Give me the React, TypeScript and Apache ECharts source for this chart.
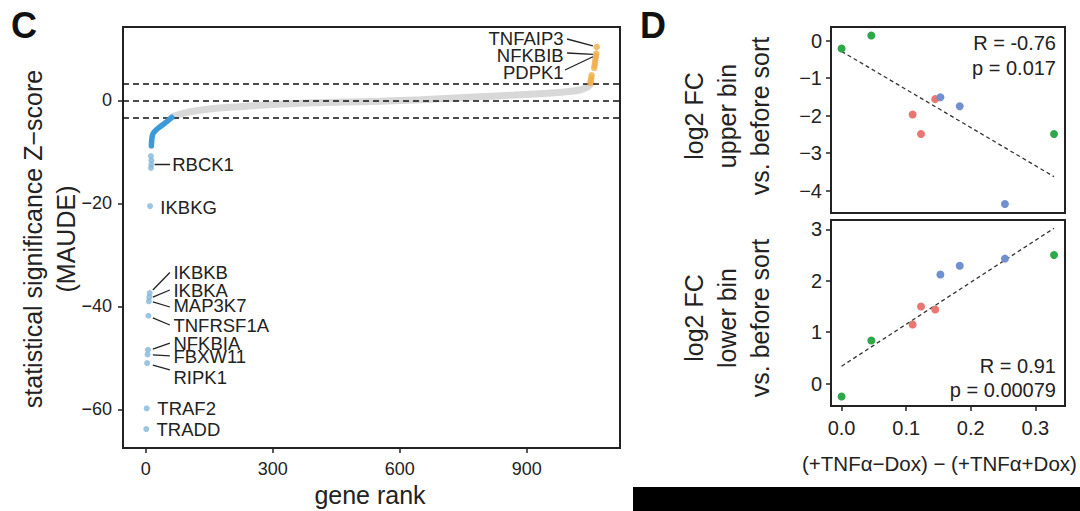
import React, { useEffect, useRef } from "react";
import * as echarts from "echarts";

// ---------- Panel C data ----------
const rankTicks = [0, 300, 600, 900];
const zTicks = [-60, -40, -20, 0];
const thresholds = [3.3, 0, -3.3];

// sorted Z-score curve of non-significant genes (rank, z)
const grayBand = [
  [61, -3.2], [80, -2.7], [104, -2.2], [150, -1.65], [222, -1.2], [300, -0.8],
  [380, -0.49], [470, -0.3], [553, -0.14], [650, 0.15], [789, 0.74], [870, 1.05],
  [947, 1.4], [1000, 1.75], [1025, 2.04], [1040, 2.5], [1049, 3.0], [1052, 3.3],
];
// significant negative genes (dense band)
const blueBand = [
  [13, -8.8], [14, -7.6], [16, -6.6], [22, -5.9], [35, -5.0], [48, -4.2], [61, -3.3],
];
// strongly negative genes, isolated
const bluePoints = [
  [12, -10.8], [13, -11.6], [13, -12.4], [12, -13.1],
  [10, -20.5],
  [9, -37.4], [8, -38.2], [7, -39.0],
  [6, -41.8],
  [5, -48.4], [4, -49.3],
  [3, -51.0],
  [2, -59.8],
  [1, -63.8],
];
// significant positive genes
const orangePoints = [
  [1065, 10.4], [1064, 9.1], [1063, 8.6], [1062, 8.0], [1061, 7.4], [1060, 6.8],
  [1059, 6.3], [1053, 4.9], [1052, 4.3], [1051, 3.8], [1050, 3.4],
];

// gene annotations: name, label anchor (rank, z), leader line from/to (rank, z)
const geneNames = [
  "RBCK1", "IKBKG", "IKBKB", "IKBKA", "MAP3K7", "TNFRSF1A",
  "NFKBIA", "FBXW11", "RIPK1", "TRAF2", "TRADD",
];
const geneLabelAt = [
  [61, -12.5], [33, -20.7], [64, -33.4], [64, -36.8], [64, -39.9], [64, -43.6],
  [64, -47.1], [64, -49.8], [64, -53.7], [26, -59.9], [24, -63.8],
];
const geneLeaders = [
  [[21, -12.33], [57, -12.33]],
  null,
  [[16.5, -36.8], [56.7, -33.4]],
  [[16.5, -38.2], [56.7, -36.8]],
  [[16.5, -39.1], [56.7, -40.1]],
  [[16.5, -42.2], [56.7, -43.6]],
  [[16.5, -48.3], [56.7, -47.1]],
  [[16.5, -49.4], [56.7, -49.6]],
  [[16.5, -51.4], [56.7, -52.3]],
  null,
  null,
];
const posNames = ["TNFAIP3", "NFKBIB", "PDPK1"];
const posLabelAt = [[988, 12.1], [988, 8.64], [988, 5.34]];
const posLeaders = [
  [[995, 11.94], [1056, 10.6]],
  [[995, 9.22], [1056, 8.97]],
  [[990, 5.92], [1056, 8.5]],
];

// ---------- Panel D data ----------
const dxTicks = [0, 0.1, 0.2, 0.3];
const upperTicks = [-4, -3, -2, -1, 0];
const lowerTicks = [0, 1, 2, 3];

const greenX = [0.0, 0.046, 0.329];
const greenUpper = [-0.21, 0.14, -2.49];
const greenLower = [-0.25, 0.84, 2.5];
const redX = [0.11, 0.123, 0.145];
const redUpper = [-1.97, -2.49, -1.56];
const redLower = [1.15, 1.5, 1.44];
const blueX = [0.153, 0.183, 0.253];
const blueUpper = [-1.51, -1.75, -4.36];
const blueLower = [2.12, 2.29, 2.43];

const upperFit = [[0.0, -0.285], [0.329, -3.63]];
const lowerFit = [[0.0, 0.34], [0.329, 3.02]];
const upperStats = ["R = -0.76", "p = 0.017"];
const lowerStats = ["R = 0.91", "p = 0.00079"];

const FONT = "'Liberation Sans', Arial, Helvetica, sans-serif";
const INK = "#222";

const minusFmt = (v: number) => (v < 0 ? "\u2212" + Math.abs(v) : String(v));

export default function App() {
  const ref = useRef<HTMLDivElement>(null);

  useEffect(() => {
    if (!ref.current) return;
    const chart = echarts.init(ref.current, undefined, { renderer: "svg" });

    const gridBase = {
      show: true,
      borderColor: INK,
      borderWidth: 2,
      backgroundColor: "transparent",
      containLabel: false,
    };
    const axisCommon = (ticks: number[], margin: number, fmt: (v: number) => string, fontSize: number) => ({
      axisLine: { show: false, onZero: false },
      splitLine: { show: false },
      axisTick: {
        show: true,
        length: 5,
        lineStyle: { color: INK, width: 1.5 },
        customValues: ticks,
      },
      axisLabel: {
        show: true,
        customValues: ticks,
        formatter: fmt,
        margin,
        color: INK,
        fontSize,
        fontFamily: FONT,
      },
    });

    const leaderData = [
      ...geneLeaders.filter((l) => l).map((l) => ({ coords: l })),
      ...posLeaders.map((l) => ({ coords: l })),
    ];

    const dScatter = (name: string, xs: number[], ys: number[], color: string, xi: number) => ({
      name,
      type: "scatter",
      xAxisIndex: xi,
      yAxisIndex: xi,
      data: xs.map((x, i) => [x, ys[i]]),
      symbolSize: 8,
      itemStyle: { color, opacity: 1 },
      z: 4,
    });

    const labelSeries = (name: string, names: string[], at: number[][], position: string) => ({
      name,
      type: "scatter",
      xAxisIndex: 0, yAxisIndex: 0,
      data: names.map((n, i) => ({ name: n, value: at[i] })),
      symbol: "circle",
      symbolSize: 1,
      itemStyle: { color: "rgba(255,255,255,0)" },
      label: {
        show: true,
        position,
        distance: 0,
        formatter: (p: any) => p.name,
        color: INK,
        opacity: 1,
        fontSize: 18.5,
        fontFamily: FONT,
      },
      labelLayout: { hideOverlap: false },
      z: 8,
    });

    const option: any = {
      animation: false,
      backgroundColor: "#fff",
      textStyle: { fontFamily: FONT },
      grid: [
        { ...gridBase, left: 123, top: 27, width: 497, height: 421 },
        { ...gridBase, left: 831, top: 27, width: 234, height: 186 },
        { ...gridBase, left: 831, top: 220, width: 234, height: 186 },
      ],
      xAxis: [
        {
          type: "value", gridIndex: 0, min: -54, max: 1120,
          ...axisCommon(rankTicks, 12, (v: number) => String(v), 18),
        },
        {
          type: "value", gridIndex: 1, min: -0.0164, max: 0.346,
          axisLine: { show: false, onZero: false }, splitLine: { show: false },
          axisTick: { show: false }, axisLabel: { show: false },
        },
        {
          type: "value", gridIndex: 2, min: -0.0164, max: 0.346,
          ...axisCommon(dxTicks, 12, (v: number) => v.toFixed(1), 20),
        },
      ],
      yAxis: [
        {
          type: "value", gridIndex: 0, min: -67.48, max: 14.27,
          ...axisCommon(zTicks, 11, minusFmt, 18),
        },
        {
          type: "value", gridIndex: 1, min: -4.6, max: 0.366,
          ...axisCommon(upperTicks, 9, minusFmt, 20),
        },
        {
          type: "value", gridIndex: 2, min: -0.433, max: 3.18,
          ...axisCommon(lowerTicks, 9, minusFmt, 20),
        },
      ],
      series: [
        {
          name: "all genes",
          type: "line",
          xAxisIndex: 0, yAxisIndex: 0,
          data: grayBand,
          smooth: 0.3,
          showSymbol: false,
          symbol: "none",
          lineStyle: { color: "#d8d8d8", width: 7, cap: "round" },
          z: 2,
          markLine: {
            silent: true,
            symbol: ["none", "none"],
            label: { show: false },
            lineStyle: { color: "#111", type: [6, 4], width: 1.6 },
            data: thresholds.map((t) => ({ yAxis: t })),
            z: 5,
          },
        },
        {
          name: "negative band",
          type: "line",
          xAxisIndex: 0, yAxisIndex: 0,
          data: blueBand,
          smooth: 0.3,
          symbol: "none",
          lineStyle: { color: "#3b9ad8", width: 5.5, cap: "round" },
          z: 6,
        },
        {
          name: "negative hits",
          type: "scatter",
          xAxisIndex: 0, yAxisIndex: 0,
          data: bluePoints,
          symbolSize: 6,
          itemStyle: { color: "#82b6d8" },
          z: 6,
        },
        {
          name: "positive hits",
          type: "scatter",
          xAxisIndex: 0, yAxisIndex: 0,
          data: orangePoints,
          symbolSize: 6.5,
          itemStyle: { color: "#f0ad48" },
          z: 6,
        },
        {
          name: "leaders",
          type: "lines",
          coordinateSystem: "cartesian2d",
          xAxisIndex: 0, yAxisIndex: 0,
          data: leaderData,
          lineStyle: { color: INK, width: 1.3, opacity: 1 },
          z: 7,
        },
        labelSeries("gene labels", geneNames, geneLabelAt, "right"),
        labelSeries("positive labels", posNames, posLabelAt, "left"),
        // Panel D top
        {
          name: "upper fit",
          type: "line",
          xAxisIndex: 1, yAxisIndex: 1,
          data: upperFit,
          symbol: "none",
          lineStyle: { color: "#333", width: 1.3, type: [4, 3] },
          z: 3,
        },
        dScatter("green", greenX, greenUpper, "#2fa84a", 1),
        dScatter("red", redX, redUpper, "#ea7671", 1),
        dScatter("blue", blueX, blueUpper, "#7090d0", 1),
        // Panel D bottom
        {
          name: "lower fit",
          type: "line",
          xAxisIndex: 2, yAxisIndex: 2,
          data: lowerFit,
          symbol: "none",
          lineStyle: { color: "#333", width: 1.3, type: [4, 3] },
          z: 3,
        },
        dScatter("green ", greenX, greenLower, "#2fa84a", 2),
        dScatter("red ", redX, redLower, "#ea7671", 2),
        dScatter("blue ", blueX, blueLower, "#7090d0", 2),
      ],
      graphic: [
        {
          type: "text", x: 24, y: 25,
          style: { text: "C", fontSize: 36, fontWeight: "bold", fontFamily: FONT, fill: "#111", align: "center", verticalAlign: "middle" },
        },
        {
          type: "text", x: 653, y: 25,
          style: { text: "D", fontSize: 36, fontWeight: "bold", fontFamily: FONT, fill: "#111", align: "center", verticalAlign: "middle" },
        },
        {
          type: "text", x: 33, y: 239, rotation: Math.PI / 2,
          style: { text: "statistical significance Z\u2212score", fontSize: 25, fontFamily: FONT, fill: INK, align: "center", verticalAlign: "middle" },
        },
        {
          type: "text", x: 66, y: 239, rotation: Math.PI / 2,
          style: { text: "(MAUDE)", fontSize: 25, fontFamily: FONT, fill: INK, align: "center", verticalAlign: "middle" },
        },
        {
          type: "text", x: 370, y: 495,
          style: { text: "gene rank", fontSize: 25, fontFamily: FONT, fill: INK, align: "center", verticalAlign: "middle" },
        },
        ...["log2 FC", "upper bin", "vs. before sort"].map((t, i) => ({
          type: "text", x: 694 + i * 33, y: 116, rotation: Math.PI / 2,
          style: { text: t, fontSize: 25, fontFamily: FONT, fill: INK, align: "center", verticalAlign: "middle" },
        })),
        ...["log2 FC", "lower bin", "vs. before sort"].map((t, i) => ({
          type: "text", x: 694 + i * 33, y: 318, rotation: Math.PI / 2,
          style: { text: t, fontSize: 25, fontFamily: FONT, fill: INK, align: "center", verticalAlign: "middle" },
        })),
        ...upperStats.map((t, i) => ({
          type: "text", x: 1056, y: 43 + i * 25,
          style: { text: t, fontSize: 20, fontFamily: FONT, fill: INK, align: "right", verticalAlign: "middle" },
        })),
        ...lowerStats.map((t, i) => ({
          type: "text", x: 1056, y: 366 + i * 24,
          style: { text: t, fontSize: 20, fontFamily: FONT, fill: INK, align: "right", verticalAlign: "middle" },
        })),
        {
          type: "text", x: 802, y: 463,
          style: { text: "(+TNF\u03b1\u2212Dox) \u2212 (+TNF\u03b1+Dox)", fontSize: 20.5, fontFamily: FONT, fill: INK, align: "left", verticalAlign: "middle" },
        },
        {
          type: "rect", shape: { x: 633, y: 487, width: 447, height: 24 },
          style: { fill: "#000" },
        },
      ],
    };

    chart.setOption(option);
    return () => chart.dispose();
  }, []);

  return (
    <div
      ref={ref}
      style={{ position: "fixed", left: 0, top: 0, width: 1080, height: 511, background: "#fff" }}
    />
  );
}
